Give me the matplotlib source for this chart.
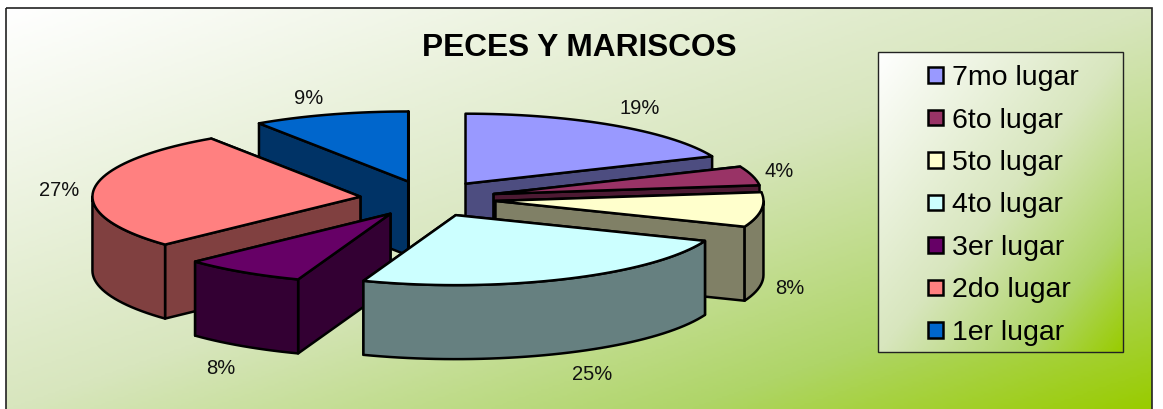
import numpy as np
import matplotlib
matplotlib.use('agg')
import matplotlib.pyplot as plt
from matplotlib.patches import Polygon, Rectangle
from matplotlib.colors import LinearSegmentedColormap

plt.rcParams['font.family'] = ['Liberation Sans', 'DejaVu Sans']

# clockwise from 12 o'clock
labels = ["7mo lugar", "6to lugar", "5to lugar", "4to lugar", "3er lugar", "2do lugar", "1er lugar"]
pct_labels = ["19%", "4%", "8%", "25%", "8%", "27%", "9%"]
# slice sizes, a bit off the printed labels
shares = [18.6, 4.4, 8, 24.6, 7.4, 27.6, 9.4]
colors = ["#9999FF", "#993366", "#FFFFCC", "#CCFFFF", "#660066", "#FF8080", "#0066CC"]
sides = ["#4D4D80", "#4D1A33", "#808066", "#668080", "#330033", "#804040", "#003366"]
# painter's order, back slices first
draw_order = [6, 0, 5, 1, 2, 4, 3]
label_pos = [(640, 109), (779, 172), (790, 289), (592, 375), (221, 369), (59, 191), (309, 98)]

CX, CY = 428, 199.7
RX, RY = 268, 70
EX, EY = 68, 18
DEPTH = 74
EDGE = 1.8


def rim(start, end, dx, dy, drop=0):
    t = np.linspace(start, end, max(2, int(abs(end - start) / 2) + 2))
    r = np.radians(t)
    return np.column_stack([dx + RX * np.sin(r), dy - RY * np.cos(r) + drop])


def gradient(ax, x0, x1, y0, y1, cmap, zorder):
    u, v = np.meshgrid(np.linspace(0, 1, 300), np.linspace(0, 1, 200))
    t = (u + v) / 2
    ax.imshow(t, cmap=cmap, vmin=0, vmax=1, extent=(x0, x1, y1, y0), aspect='auto', zorder=zorder)


def draw_slice(ax, start, end, top, side, z):
    mid = np.radians((start + end) / 2)
    ax_x = CX + EX * np.sin(mid)
    ax_y = CY - EY * np.cos(mid)
    apex = np.array([ax_x, ax_y])
    down = np.array([0, DEPTH])

    faces = []
    for ang in (start, end):
        p = rim(ang, ang, ax_x, ax_y)[0]
        faces.append(((ax_y + p[1]) / 2, [apex, p, p + down, apex + down]))
    # outer wall only shows on the near half
    a, b = max(start, 90), min(end, 270)
    if b > a:
        upper = rim(a, b, ax_x, ax_y)
        lower = rim(a, b, ax_x, ax_y, DEPTH)[::-1]
        faces.append((upper[:, 1].max() + 1000, np.vstack([upper, lower])))
    for _, pts in sorted(faces, key=lambda f: f[0]):
        ax.add_patch(Polygon(np.array(pts), closed=True, fc=side, ec='black', lw=EDGE, joinstyle='round', zorder=z))

    pts = np.vstack([[apex], rim(start, end, ax_x, ax_y)])
    ax.add_patch(Polygon(pts, closed=True, fc=top, ec='black', lw=EDGE, joinstyle='round', zorder=z))


fig = plt.figure(figsize=(11.63, 4.10), dpi=100)
ax = fig.add_axes([0, 0, 1, 1])
cmap = LinearSegmentedColormap.from_list('bg', [(0, '#FFFFFF'), (0.5, '#D8E6BE'), (0.8, '#AFD568'), (1, '#99CC00')])

gradient(ax, 6, 1152, 9, 410, cmap, 1)
ax.add_patch(Rectangle((6, 9), 1146, 410, fc='none', ec='#222222', lw=1.2, zorder=2))

edges = np.cumsum([0] + shares) / np.sum(shares) * 360
for z, i in enumerate(draw_order):
    draw_slice(ax, edges[i], edges[i + 1], colors[i], sides[i], 5 + z)

for i, (x, y) in enumerate(label_pos):
    ax.text(x, y, pct_labels[i], ha='center', va='center', fontsize=14.5, color='#111111', zorder=20)

ax.text(579, 48, "PECES Y MARISCOS", ha='center', va='center', fontsize=22.8, fontweight='bold', color='black', zorder=20)

# legend
gradient(ax, 878, 1123, 53, 353, cmap, 3)
ax.add_patch(Rectangle((878, 53), 245, 300, fc='none', ec='#222222', lw=1, zorder=4))
for i, name in enumerate(labels):
    y = 76 + i * 42.5
    ax.add_patch(Rectangle((927.5, y - 8), 15.5, 15.5, fc=colors[i], ec='black', lw=EDGE, zorder=20))
    ax.text(952, y + 2, name, ha='left', va='center', fontsize=20.5, color='black', zorder=20)

ax.set_xlim(0, 1163)
ax.set_ylim(410, 0)
ax.axis('off')
fig.savefig('out.png', dpi=100, facecolor='white')
plt.close()
